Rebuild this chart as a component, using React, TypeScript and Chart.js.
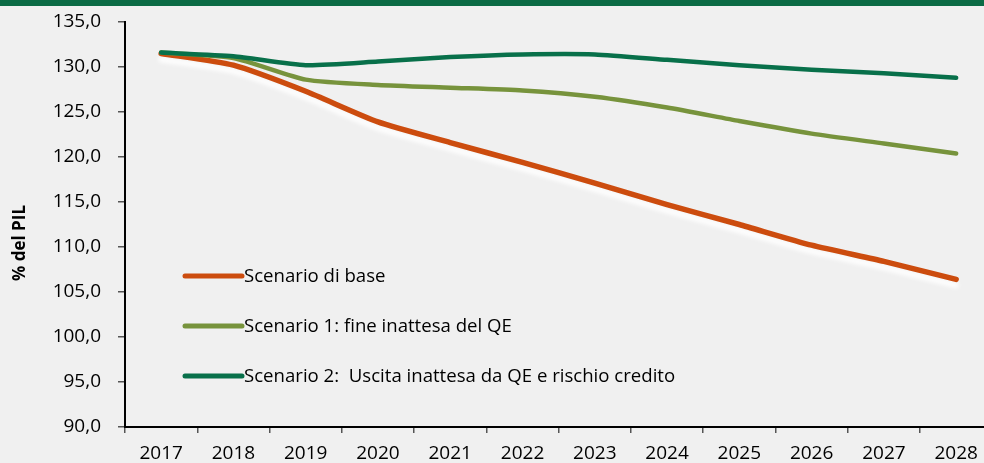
import React, { useEffect, useRef } from "react";
import { Chart, registerables } from "chart.js";

Chart.register(...registerables);

const years = ["2017", "2018", "2019", "2020", "2021", "2022", "2023", "2024", "2025", "2026", "2027", "2028"];
const scenarioBase = [131.5, 130.2, 127.3, 123.9, 121.6, 119.4, 117.1, 114.7, 112.5, 110.2, 108.4, 106.4];
const scenario1 = [131.6, 131.0, 128.6, 128.0, 127.7, 127.4, 126.7, 125.5, 124.0, 122.6, 121.5, 120.4];
const scenario2 = [131.6, 131.2, 130.2, 130.6, 131.1, 131.4, 131.4, 130.8, 130.2, 129.7, 129.3, 128.8];
const seriesNames = [
  "Scenario di base",
  "Scenario 1: fine inattesa del QE",
  "Scenario 2:  Uscita inattesa da QE e rischio credito",
];
const seriesColors = ["#cc4c0e", "#77933c", "#08704a"];
const yMin = 90;
const yMax = 135;
const yStep = 5;
const yTitle = "% del PIL";

const FONT = "'Open Sans', 'Liberation Sans', sans-serif";

const shadowPlugin = {
  id: "shadowPlugin",
  beforeDatasetDraw(chart: any, args: any) {
    const ctx = chart.ctx;
    ctx.save();
    if (args.index === 0) {
      ctx.shadowColor = "rgba(255,255,255,0.95)";
      ctx.shadowOffsetY = 6;
      ctx.shadowOffsetX = 0;
      ctx.shadowBlur = 4;
    }
  },
  afterDatasetDraw(chart: any) {
    chart.ctx.restore();
  },
};

const legendPlugin = {
  id: "customLegend",
  afterDraw(chart: any) {
    const ctx = chart.ctx;
    const area = chart.chartArea;
    ctx.save();
    const x0 = area.left + 60;
    const x1 = area.left + 117;
    const ys = [276, 326, 376];
    chart.data.datasets.forEach((ds: any, i: number) => {
      ctx.beginPath();
      ctx.strokeStyle = ds.borderColor;
      ctx.lineWidth = 5;
      ctx.lineCap = "round";
      ctx.moveTo(x0, ys[i]);
      ctx.lineTo(x1, ys[i]);
      ctx.stroke();
      ctx.fillStyle = "#000";
      ctx.font = `18.6px ${FONT}`;
      ctx.textBaseline = "middle";
      ctx.textAlign = "left";
      ctx.fillText(ds.label, x1 + 2, ys[i] + 1);
    });
    // y axis title
    ctx.translate(20, 243);
    ctx.rotate(-Math.PI / 2);
    ctx.font = `bold 17px ${FONT}`;
    ctx.textAlign = "center";
    ctx.textBaseline = "middle";
    ctx.fillStyle = "#000";
    ctx.fillText(yTitle, 0, 0);
    ctx.restore();
  },
};

export default function App() {
  const ref = useRef<HTMLCanvasElement>(null);
  useEffect(() => {
    if (!ref.current) return;
    const datasets = [scenarioBase, scenario1, scenario2].map((d, i) => ({
      label: seriesNames[i],
      data: d,
      borderColor: seriesColors[i],
      backgroundColor: seriesColors[i],
      borderWidth: i === 0 ? 5.5 : 4.5,
      borderCapStyle: "round" as const,
      borderJoinStyle: "round" as const,
      pointRadius: 0,
      tension: 0.2,
      order: 2 - i,
    }));
    const chart = new Chart(ref.current, {
      type: "line",
      data: { labels: years, datasets },
      options: {
        animation: false,
        responsive: false,
        layout: { padding: { left: 0, top: 22, right: 1010 - 992.3, bottom: 0 } },
        plugins: { legend: { display: false }, tooltip: { enabled: false } },
        scales: {
          x: {
            offset: true,
            grid: { drawOnChartArea: false, offset: true, tickLength: 6, color: "#555", lineWidth: 1.5 },
            border: { color: "#000", width: 2 },
            ticks: { color: "#000", font: { family: FONT, size: 19 }, padding: 9, maxRotation: 0 },
            afterFit: (s: any) => { s.height = 36; s.paddingLeft = 0; s.paddingRight = 0; },
          },
          y: {
            min: yMin,
            max: yMax,
            grid: { drawOnChartArea: false, tickLength: 7, color: "#555", lineWidth: 1.5 },
            border: { color: "#000", width: 2 },
            ticks: {
              stepSize: yStep,
              color: "#000",
              font: { family: FONT, size: 19 },
              padding: 17,
              callback: (v: any) => Number(v).toFixed(1).replace(".", ","),
            },
            afterFit: (s: any) => { s.width = 125; s.paddingTop = 0; s.paddingBottom = 0; },
          },
        },
      },
      plugins: [shadowPlugin, legendPlugin],
    });
    return () => chart.destroy();
  }, []);
  return (
    <div style={{ position: "fixed", left: 0, top: 0, width: 984, height: 463, overflow: "hidden", background: "#f0f0f0" }}>
      <div style={{ position: "absolute", left: 0, top: 0, width: 984, height: 6, background: "#0b6b45" }} />
      <canvas ref={ref} width={1010} height={463} style={{ position: "absolute", left: 0, top: 0, width: 1010, height: 463 }} />
    </div>
  );
}
